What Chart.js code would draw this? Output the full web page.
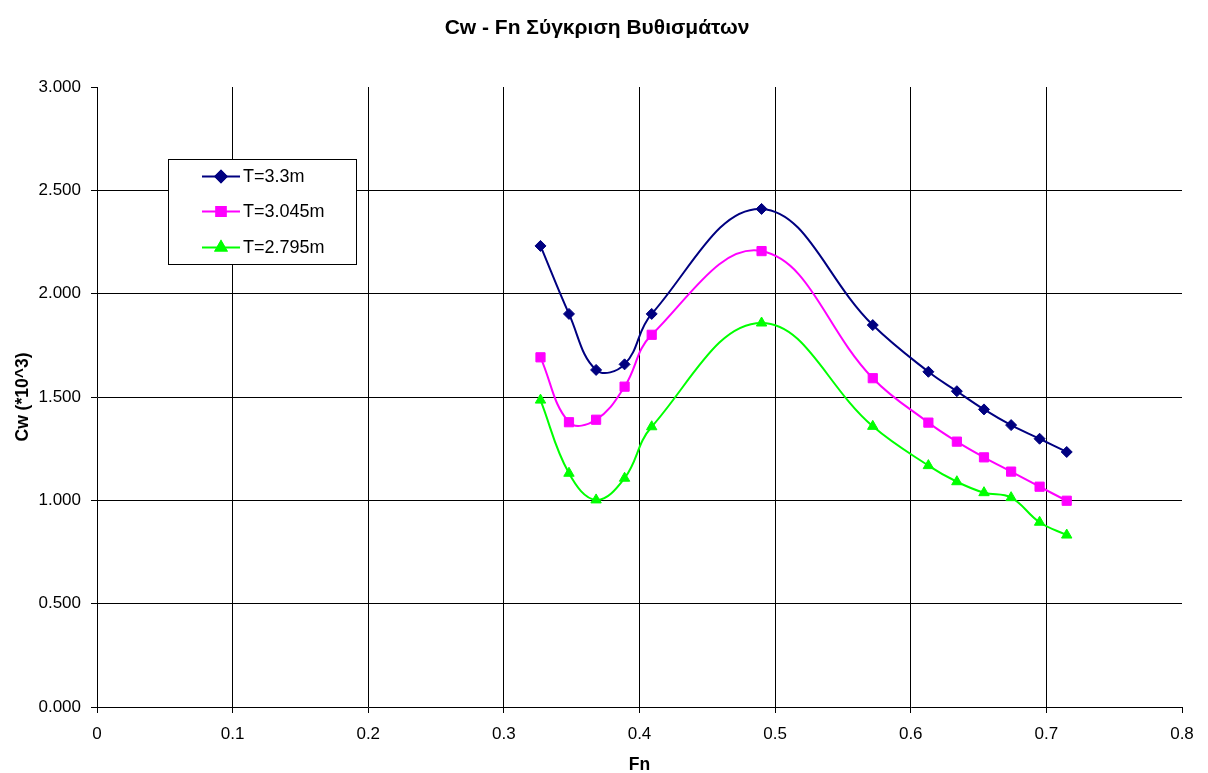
<!DOCTYPE html>
<html>
<head>
<meta charset="utf-8">
<title>Cw - Fn Σύγκριση Βυθισμάτων</title>
<script src="https://cdn.jsdelivr.net/npm/chart.js@4/dist/chart.umd.min.js"></script>
<style>
  html, body { margin: 0; padding: 0; background: #ffffff; }
  #wrap { width: 1208px; height: 773px; position: relative; }
</style>
</head>
<body>
<div id="wrap"><canvas id="chart" width="1208" height="773"></canvas></div>
<script>
// Froude numbers of the tested speeds
const fn = [0.327, 0.348, 0.368, 0.389, 0.409, 0.490, 0.572, 0.613, 0.634, 0.654, 0.674, 0.695, 0.715];

// Wave resistance coefficient Cw (*10^3) for each draught
const cwT330  = [2.231, 1.902, 1.631, 1.658, 1.902, 2.410, 1.848, 1.622, 1.528, 1.440, 1.364, 1.298, 1.234];
const cwT3045 = [1.692, 1.378, 1.390, 1.550, 1.801, 2.206, 1.591, 1.376, 1.284, 1.208, 1.139, 1.066, 0.998];
const cwT2795 = [1.485, 1.131, 1.002, 1.107, 1.356, 1.858, 1.358, 1.168, 1.090, 1.037, 1.013, 0.894, 0.832];

const seriesLabels = ['T=3.3m', 'T=3.045m', 'T=2.795m'];
const chartTitle = 'Cw - Fn Σύγκριση Βυθισμάτων';
const xTitle = 'Fn';
const yTitle = 'Cw (*10^3)';

const FONT = '"Liberation Sans", Arial, sans-serif';

function pairs(ys) { return fn.map((x, i) => ({ x: x, y: ys[i] })); }

function series(label, ys, color, style, radius) {
  return {
    label: label,
    data: pairs(ys),
    borderColor: color,
    backgroundColor: color,
    borderWidth: 2,
    pointStyle: style,
    pointRadius: radius,
    pointHoverRadius: radius,
    pointBorderWidth: 1,
    tension: 0.4,
    fill: false
  };
}

// Title, axis titles and the boxed legend are painted on the canvas
const annotations = {
  id: 'annotations',
  afterDraw(chart) {
    const ctx = chart.ctx;
    const area = chart.chartArea;
    ctx.save();
    ctx.fillStyle = '#000';
    ctx.textAlign = 'center';
    ctx.textBaseline = 'middle';

    ctx.font = 'bold 21px ' + FONT;
    ctx.fillText(chartTitle, 597, 28);

    ctx.font = 'bold 17.5px ' + FONT;
    ctx.fillText(xTitle, (area.left + area.right) / 2, 765);

    ctx.save();
    ctx.translate(23, (area.top + area.bottom) / 2);
    ctx.rotate(-Math.PI / 2);
    ctx.fillText(yTitle, 0, 0);
    ctx.restore();

    // legend box
    const bx = 168.5, by = 159.5, bw = 188, bh = 105;
    ctx.fillStyle = '#fff';
    ctx.fillRect(bx, by, bw, bh);
    ctx.strokeStyle = '#000';
    ctx.lineWidth = 1;
    ctx.strokeRect(bx, by, bw, bh);

    const rows = [176.5, 211.5, 247.5];
    ctx.font = '18px ' + FONT;
    ctx.textAlign = 'left';
    chart.data.datasets.forEach((ds, i) => {
      const y = rows[i];
      ctx.strokeStyle = ds.borderColor;
      ctx.lineWidth = 2;
      ctx.beginPath();
      ctx.moveTo(202, y);
      ctx.lineTo(240, y);
      ctx.stroke();
      Chart.helpers.drawPoint(ctx, {
        pointStyle: ds.pointStyle,
        radius: ds.pointRadius,
        rotation: 0,
        borderWidth: 1
      }, 221, y);
      ctx.fillStyle = ds.backgroundColor;
      ctx.strokeStyle = ds.borderColor;
      ctx.fill();
      ctx.stroke();
      ctx.fillStyle = '#000';
      ctx.fillText(ds.label, 243, y + 1);
    });
    ctx.restore();
  }
};

new Chart(document.getElementById('chart'), {
  type: 'line',
  data: {
    datasets: [
      series(seriesLabels[0], cwT330, '#000080', 'rectRot', 5.5),
      series(seriesLabels[1], cwT3045, '#ff00ff', 'rect', 6.5),
      series(seriesLabels[2], cwT2795, '#00ff00', 'triangle', 6)
    ]
  },
  options: {
    responsive: false,
    animation: false,
    events: [],
    layout: { padding: { left: 0, top: 87, right: 26, bottom: 0 } },
    plugins: {
      legend: { display: false },
      title: { display: false },
      tooltip: { enabled: false }
    },
    scales: {
      x: {
        type: 'linear',
        min: 0,
        max: 0.8,
        afterFit(scale) { scale.height = 66; },
        ticks: {
          stepSize: 0.1,
          color: '#000',
          font: { family: FONT, size: 17 },
          padding: 11,
          maxRotation: 0,
          callback: (v) => String(Number(v.toFixed(1)))
        },
        grid: {
          color: (c) => (c.tick && (c.tick.value === 0 || Math.abs(c.tick.value - 0.8) < 1e-9)) ? 'rgba(0,0,0,0)' : '#000',
          lineWidth: 1,
          tickColor: '#000',
          tickLength: 6,
          drawTicks: true
        },
        border: { display: true, color: '#000', width: 1 }
      },
      y: {
        type: 'linear',
        min: 0,
        max: 3,
        afterFit(scale) { scale.width = 97; },
        ticks: {
          stepSize: 0.5,
          color: '#000',
          font: { family: FONT, size: 17 },
          padding: 10,
          callback: (v) => v.toFixed(3)
        },
        grid: {
          color: (c) => (c.tick && (c.tick.value === 0 || Math.abs(c.tick.value - 3) < 1e-9)) ? 'rgba(0,0,0,0)' : '#000',
          lineWidth: 1,
          tickColor: '#000',
          tickLength: 6,
          drawTicks: true
        },
        border: { display: true, color: '#000', width: 1 }
      }
    }
  },
  plugins: [annotations]
});
</script>
</body>
</html>
